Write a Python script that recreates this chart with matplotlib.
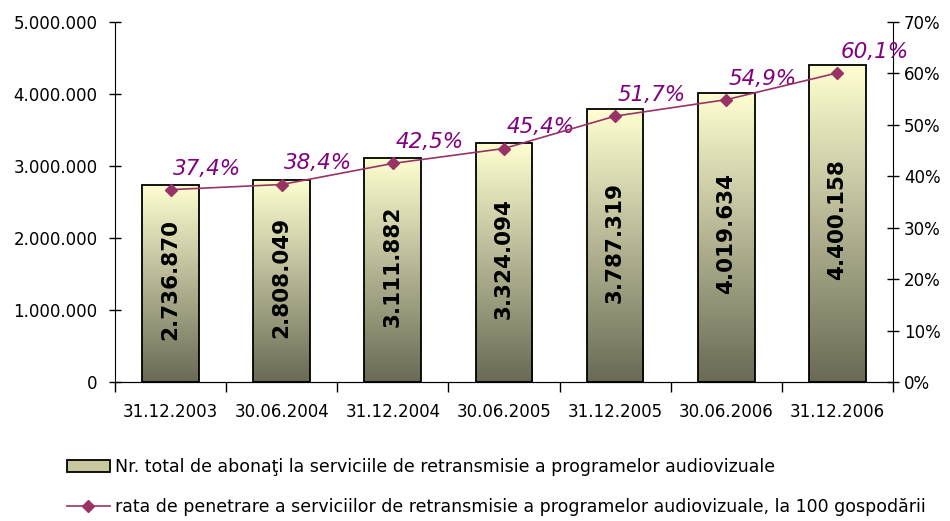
import matplotlib.pyplot as plt
import numpy as np
from matplotlib.ticker import FuncFormatter, FixedLocator
from matplotlib.colors import LinearSegmentedColormap

# data
dates = ['31.12.2003', '30.06.2004', '31.12.2004', '30.06.2005',
         '31.12.2005', '30.06.2006', '31.12.2006']
abonati = [2736870, 2808049, 3111882, 3324094, 3787319, 4019634, 4400158]
rata = [37.4, 38.4, 42.5, 45.4, 51.7, 54.9, 60.1]

label_bar = 'Nr. total de abonaţi la serviciile de retransmisie a programelor audiovizuale'
label_line = 'rata de penetrare a serviciilor de retransmisie a programelor audiovizuale, la 100 gospodării'

line_col = '#993366'
text_col = '#800080'

fig = plt.figure(figsize=(9.5, 5.21), dpi=100)
ax = fig.add_axes([0.121, 0.2668, 0.819, 0.691])
ax2 = ax.twinx()

x = np.arange(len(dates))
bars = ax.bar(x, abonati, width=0.51, facecolor='none', edgecolor='black',
              linewidth=1.3, zorder=3)

# vertical gradient inside every bar
cmap = LinearSegmentedColormap.from_list('g', ['#6a6a55', '#ffffd2'])
grad = np.linspace(0, 1, 256).reshape(-1, 1)
for b in bars:
    x0, y0 = b.get_x(), b.get_y()
    w, h = b.get_width(), b.get_height()
    im = ax.imshow(grad, cmap=cmap, origin='lower', aspect='auto',
                   extent=[x0, x0 + w, y0, y0 + h], zorder=2)
    im.set_clip_path(b)
    ax.text(x0 + w / 2, h / 2 + 50000, f'{h:,}'.replace(',', '.'), rotation=90,
            ha='center', va='center', fontsize=15.5, fontweight='bold',
            color='black', zorder=4)

ax.set_xlim(-0.5, len(dates) - 0.5)
ax.set_ylim(0, 5000000)
ax.set_yticks(np.arange(0, 5000001, 1000000))
ax.yaxis.set_major_formatter(FuncFormatter(lambda v, p: f'{int(v):,}'.replace(',', '.')))
ax.set_xticks(x)
ax.set_xticklabels(dates)
ax.xaxis.set_minor_locator(FixedLocator(np.arange(-0.5, len(dates), 1.0)))
ax.tick_params(axis='x', which='major', length=0, labelsize=12, pad=15)
ax.tick_params(axis='x', which='minor', length=7, direction='out', width=1)
ax.tick_params(axis='y', length=9, direction='inout', labelsize=12, width=1, pad=8)
ax.spines['top'].set_visible(False)
ax.spines['right'].set_visible(False)

ln, = ax2.plot(x, rata, color=line_col, linewidth=1.2, marker='D',
               markersize=6, zorder=5)
for xi, r in zip(x, rata):
    ax2.annotate(f'{r:.1f}%'.replace('.', ','), (xi, r), xytext=(2, 8),
                 textcoords='offset points', ha='left', va='bottom',
                 fontsize=15.5, fontstyle='italic', color=text_col)
ax2.set_ylim(0, 70)
ax2.set_yticks(np.arange(0, 71, 10))
ax2.yaxis.set_major_formatter(FuncFormatter(lambda v, p: f'{int(v)}%'))
ax2.tick_params(axis='y', length=9, direction='inout', labelsize=12, width=1)
ax2.spines['top'].set_visible(False)
ax2.spines['left'].set_visible(False)

patch = plt.Rectangle((0, 0), 1, 1, facecolor='#c8c8a0', edgecolor='black', linewidth=1.3)
fig.legend([patch, ln], [label_bar, label_line], loc='upper left',
           bbox_to_anchor=(0.07, 0.12), frameon=False, fontsize=12.5,
           handlelength=2.5, handletextpad=0.3, labelspacing=1.25,
           borderaxespad=0, borderpad=0)

fig.savefig('out.png', dpi=100)
